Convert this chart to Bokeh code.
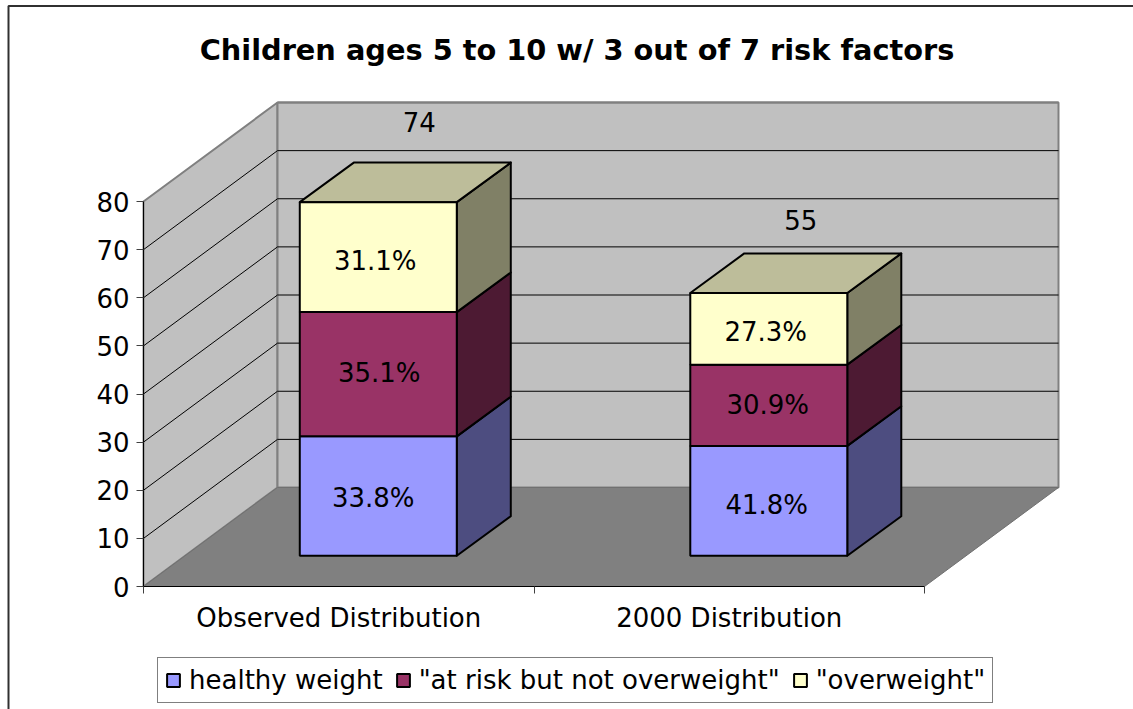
from bokeh.plotting import figure
from bokeh.models import Range1d, FixedTicker, Legend, LegendItem, Label
from bokeh.core.properties import value
from bokeh.embed import file_html
from bokeh.resources import INLINE

title_text = "Children ages 5 to 10 w/ 3 out of 7 risk factors"
categories = ["Observed Distribution", "2000 Distribution"]
series_names = ["healthy weight", '"at risk but not overweight"', '"overweight"']
healthy = [25, 23]
at_risk = [26, 17]
overweight = [23, 15]
totals = [74, 55]
pct_healthy = ["33.8%", "41.8%"]
pct_at_risk = ["35.1%", "30.9%"]
pct_overweight = ["31.1%", "27.3%"]
y_ticks = [0, 10, 20, 30, 40, 50, 60, 70, 80]

FRONT = ["#9999FF", "#993366", "#FFFFCC"]
SIDE = ["#4D4D80", "#4D1A33", "#808066"]
TOP = ["#BDBD9A"]*3
FONT = "DejaVu Sans"

W, H = 1133, 709
PX0, PY0 = 143, 586        # pixel of category 0, value 0
CAT_PX, VAL_PX = 390.5, 385/80
DX, DY = 134/CAT_PX, 99/VAL_PX
BAR_W = 157/CAT_PX
D0X, D0Y = 0.295, 0.31     # bar front's position in the floor depth
DBX, DBY = 0.403, 0.40     # bar's own depth
BAR_SCALE = 0.993          # bars recede slightly in the 3-D view
YMAX = 80

x_range = Range1d(-PX0/CAT_PX, (W-PX0)/CAT_PX)
y_range = Range1d((PY0-H)/VAL_PX, PY0/VAL_PX)

p = figure(width=W, height=H, x_range=x_range, y_range=y_range, output_backend="svg",
           toolbar_location=None, min_border=0, margin=(0, 0, 0, 0),
           background_fill_color="white", border_fill_color="white", outline_line_color=None,
           tools="")
p.grid.visible = False

def fx(pix): return (pix-PX0)/CAT_PX
def fy(pix): return (PY0-pix)/VAL_PX

# chart area border (left and top)
p.line([fx(8), fx(8), fx(W)], [fy(H), fy(5.5), fy(5.5)], line_color="#303030", line_width=2)

n = len(categories)
p.patch([0, DX, DX, 0], [0, DY, YMAX+DY, YMAX], fill_color="#C0C0C0", line_color="#808080", line_width=2)
p.patch([DX, n+DX, n+DX, DX], [DY, DY, YMAX+DY, YMAX+DY], fill_color="#C0C0C0", line_color="#808080", line_width=2)
p.patch([0, n, n+DX, DX], [0, 0, DY, DY], fill_color="#808080", line_color="#707070", line_width=1)
gx, gy = [], []
for t in y_ticks[1:-1]:
    gx.append([0, DX, n+DX]); gy.append([t, t+DY, t+DY])
p.multi_line(gx, gy, line_color="black", line_width=1)
p.line([DX, n+DX], [YMAX+DY, YMAX+DY], line_color="#808080", line_width=2)

series = [healthy, at_risk, overweight]
base = [0]*n
legend_items = []
label_src = []
for s, vals in enumerate(series):
    lefts = [i+0.5-BAR_W/2+D0X*DX for i in range(n)]
    rights = [l+BAR_W for l in lefts]
    bottoms = [b*BAR_SCALE+D0Y*DY for b in base]
    tops = [b+v*BAR_SCALE for b, v in zip(bottoms, vals)]
    p.patches([[r, r+DBX*DX, r+DBX*DX, r] for r in rights],
              [[b, b+DBY*DY, t+DBY*DY, t] for b, t in zip(bottoms, tops)],
              fill_color=SIDE[s], line_color="black", line_width=2, line_join="round")
    if s == len(series)-1:
        p.patches([[l, l+DBX*DX, r+DBX*DX, r] for l, r in zip(lefts, rights)],
                  [[t, t+DBY*DY, t+DBY*DY, t] for t in tops],
                  fill_color=TOP[s], line_color="black", line_width=2, line_join="round")
    q = p.quad(left=lefts, right=rights, bottom=bottoms, top=tops,
               fill_color=FRONT[s], line_color="black", line_width=2)
    legend_items.append(LegendItem(label=series_names[s], renderers=[q]))
    label_src.append(([(l+r)/2 for l, r in zip(lefts, rights)], [(b+t)/2 for b, t in zip(bottoms, tops)]))
    base = [b+v for b, v in zip(base, vals)]

for (lx, ly), texts, xo, yo in zip(label_src, [pct_healthy, pct_at_risk, pct_overweight],
                                   [[-5, -2], [1, -1], [-3, -3]], [[2, 4], [-1, 0], [4, 3]]):
    p.text(x=lx, y=ly, text=texts, x_offset=xo, y_offset=yo, text_align="center", text_baseline="middle",
           text_font=value(FONT), text_font_size="26px", text_color="black")
tops_y = [b + D0Y*DY for b in base]
p.text(x=[i+0.5+D0Y*DX for i in range(n)], y=tops_y, text=[str(t) for t in totals],
       x_offset=[39, 30], y_offset=[-78, -71], text_align="center", text_baseline="middle",
       text_font=value(FONT), text_font_size="26px", text_color="black")

ya = p.yaxis[0]
ya.fixed_location = 0
ya.ticker = FixedTicker(ticks=y_ticks)
ya.axis_line_color = "black"; ya.major_tick_line_color = "#404040"; ya.minor_tick_line_color = None
ya.major_tick_out = 7; ya.major_tick_in = 0
ya.major_label_text_font = FONT; ya.major_label_text_font_size = "26px"
ya.major_label_text_color = "black"
ya.major_label_standoff = 7
ya.bounds = (0, 80)
xa = p.xaxis[0]
xa.fixed_location = 0
xa.ticker = FixedTicker(ticks=[i+0.5 for i in range(n)], minor_ticks=list(range(n+1)))
xa.major_label_overrides = {i+0.5: c for i, c in enumerate(categories)}
xa.axis_line_color = "black"; xa.major_tick_line_color = None
xa.minor_tick_line_color = "#404040"; xa.minor_tick_out = 7; xa.minor_tick_in = 0
xa.major_tick_out = 0; xa.major_tick_in = 0
xa.major_label_text_font = FONT; xa.major_label_text_font_size = "26px"
xa.major_label_text_color = "black"
xa.major_label_standoff = 9
xa.bounds = (0, n)

p.add_layout(Label(x=fx(576.5), y=fy(49), text=title_text, text_align="center",
                   text_baseline="middle", text_font=FONT, text_font_size="28.8px",
                   text_font_style="bold", text_color="black"))

legend = Legend(items=legend_items, orientation="horizontal",
                location=(157, H-702-0.5), border_line_color="black", border_line_width=1,
                background_fill_color="white", background_fill_alpha=1,
                label_text_font=FONT, label_text_font_size="26px", label_text_color="black",
                glyph_width=16, glyph_height=16, spacing=12, padding=7, margin=0, label_standoff=8)
p.add_layout(legend, "center")

open("out.html", "w").write(file_html(p, INLINE))
